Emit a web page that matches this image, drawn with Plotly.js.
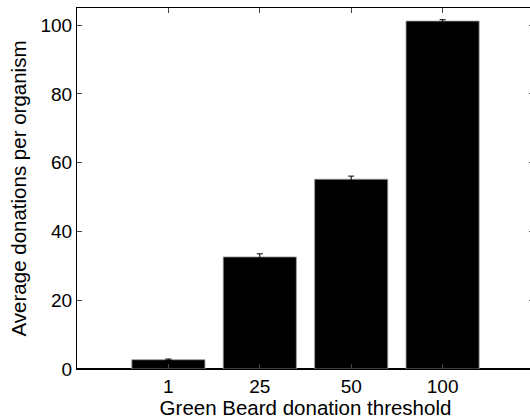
<!DOCTYPE html>
<html>
<head>
<meta charset="utf-8">
<script src="https://cdn.plot.ly/plotly-3.0.1.min.js"></script>
<style>
html,body{margin:0;padding:0;overflow:hidden;width:530px;height:419px;background:#fff;}
#chart{width:537px;height:419px;}
</style>
</head>
<body>
<div id="chart"></div>
<script>
const thresholds = ['1', '25', '50', '100'];
const avgDonations = [2.7, 32.6, 55.2, 101.2];
const errors = [0.2, 0.9, 0.9, 0.4];

const trace = {
  type: 'bar',
  x: thresholds,
  y: avgDonations,
  width: 0.8,
  marker: {color: '#000000', line: {color: '#9a9a9a', width: 0.8}},
  error_y: {type: 'data', array: errors, visible: true, color: '#000000', thickness: 1, width: 3}
};

const fam = 'Liberation Sans, Arial, Helvetica, sans-serif';

const layout = {
  width: 537,
  height: 419,
  margin: {l: 77, r: 3, t: 8, b: 50},
  paper_bgcolor: '#fff',
  plot_bgcolor: '#fff',
  showlegend: false,
  font: {family: fam, size: 19, color: '#000'},
  xaxis: {
    type: 'category',
    range: [-1, 4],
    showgrid: false,
    zeroline: false,
    showline: true,
    linecolor: '#000',
    linewidth: 1,
    mirror: 'ticks',
    ticks: 'inside',
    ticklen: 5,
    tickcolor: '#444',
    tickfont: {family: fam, size: 19, color: '#000'},
    title: {text: 'Green Beard donation threshold', font: {family: fam, size: 20.5, color: '#000'}, standoff: 1}
  },
  yaxis: {
    range: [0, 105],
    tickvals: [0, 20, 40, 60, 80, 100],
    showgrid: false,
    zeroline: true,
    zerolinecolor: '#000',
    zerolinewidth: 2,
    showline: true,
    linecolor: '#000',
    linewidth: 1,
    mirror: 'ticks',
    ticks: 'inside',
    ticklen: 5,
    tickcolor: '#444',
    tickfont: {family: fam, size: 19, color: '#000'},
    title: {text: 'Average donations per organism', font: {family: fam, size: 20.5, color: '#000'}, standoff: 8}
  }
};

Plotly.newPlot('chart', [trace], layout, {displayModeBar: false, staticPlot: true});
</script>
</body>
</html>
